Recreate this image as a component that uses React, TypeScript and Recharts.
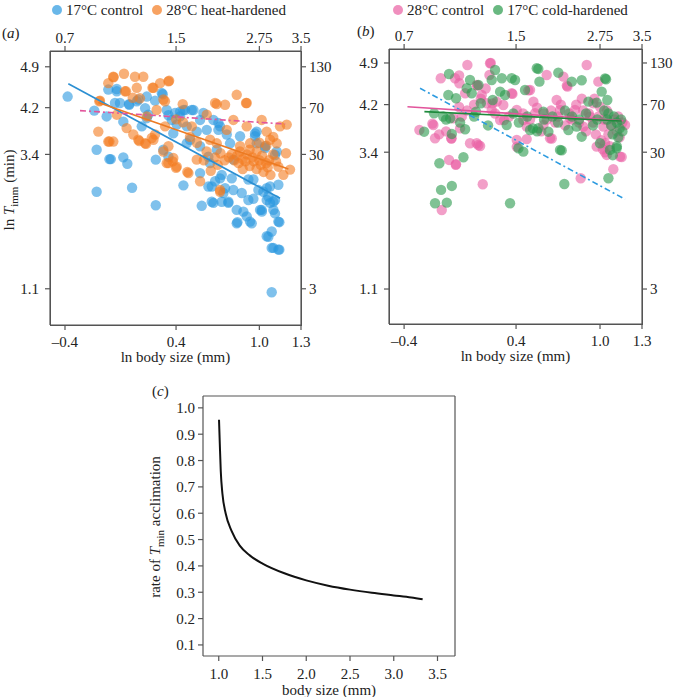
import React from 'react';
import { ScatterChart, Scatter, XAxis, YAxis, LineChart, Line } from 'recharts';

const FONT = '"Liberation Serif", "DejaVu Serif", serif';

// shared axis ticks (ln scale below/left, back-transformed labels above/right)
const bodyTicks = [-0.4, 0.4, 1.0, 1.3];
const bodyTickLabels = ['–0.4', '0.4', '1.0', '1.3'];
const sizeTopLabels = ['0.7', '1.5', '2.75', '3.5'];
const timeTicks = [1.1, 3.4, 4.2, 4.9];
const timeRightLabels = ['3', '30', '70', '130'];

// panel (a): [ln body size, ln T_imm]
const control17A = [
  [-0.381, 4.39], [-0.189, 4.15], [-0.172, 3.48], [-0.172, 2.76], [-0.1, 4.05], [-0.088, 4.51], [-0.08, 3.32],
  [-0.07, 3.32], [-0.027, 4.48], [-0.04, 4.28], [-0.004, 4.28], [0.02, 3.96], [0.02, 3.35], [0.049, 3.24],
  [0.083, 2.83], [0.063, 4.25], [0.128, 4.34], [0.153, 3.88], [0.189, 4.39], [0.2, 4.08], [0.254, 2.53],
  [0.254, 3.31], [0.297, 4.45], [0.308, 3.48], [0.333, 4.16], [0.38, 3.76], [0.393, 4.11], [0.429, 4.13],
  [0.453, 4.16], [0.477, 3.88], [0.501, 3.65], [0.453, 2.87], [0.525, 4.16], [0.549, 3.79], [0.573, 3.08],
  [0.585, 2.52], [0.621, 3.82], [0.645, 3.25], [0.657, 2.85], [0.669, 2.57], [0.705, 3.94], [0.717, 2.99],
  [0.741, 2.74], [0.729, 2.59], [0.777, 2.57], [0.789, 3.59], [0.801, 2.99], [0.813, 2.79], [0.837, 2.45],
  [0.842, 2.24], [0.873, 2.74], [0.861, 3.71], [0.885, 2.42], [0.909, 2.34], [0.921, 2.62], [0.945, 2.22],
  [0.957, 2.97], [0.969, 3.71], [0.981, 3.79], [0.993, 2.79], [1.005, 2.45], [1.017, 2.45], [1.029, 2.76],
  [1.041, 3.51], [1.053, 2.62], [1.065, 2.68], [1.077, 2.85], [1.089, 1.8], [1.101, 1.8], [1.053, 2.0],
  [1.089, 2.08], [1.101, 2.45], [1.113, 2.39], [1.125, 3.45], [1.137, 2.88], [1.144, 2.24], [1.144, 1.77],
  [1.089, 1.04], [1.113, 2.62], [1.077, 2.57], [0.981, 3.59], [0.921, 2.97], [0.813, 3.31], [0.693, 3.48],
  [0.633, 3.36], [0.573, 3.54], [0.477, 3.59], [0.429, 4.05], [0.369, 3.99], [0.345, 3.36], [0.717, 3.88],
  [0.573, 3.99], [0.597, 4.11], [0.669, 3.99], [0.117, 4.31], [0.177, 4.19], [0.249, 4.32], [0.304, 4.43],
  [0.345, 4.07], [0.405, 3.91], [-0.027, 4.52], [0.061, 4.26], [0.189, 4.02], [0.657, 2.59], [0.777, 2.59],
  [0.837, 2.22], [0.933, 2.25], [0.957, 2.64], [1.018, 2.42], [1.065, 1.99], [1.137, 1.77], [1.137, 2.25],
  [1.101, 2.59], [1.053, 2.82], [0.753, 2.82], [0.729, 3.05], [0.681, 2.94], [0.633, 2.85], [0.465, 4.16],
  [0.513, 4.16], [0.705, 3.82], [0.765, 3.74], [0.969, 3.76], [1.113, 3.39], [1.041, 3.54],
];
const heat28A = [
  [-0.153, 4.31], [-0.16, 3.79], [-0.088, 4.62], [-0.052, 4.73], [-0.088, 3.62], [-0.052, 3.62], [0.025, 4.78],
  [0.032, 4.48], [0.044, 3.85], [0.092, 3.74], [0.104, 4.73], [0.117, 4.54], [0.128, 3.65], [0.164, 4.73],
  [0.177, 3.59], [0.189, 4.05], [0.237, 3.65], [0.237, 4.54], [0.285, 4.62], [0.309, 4.34], [0.345, 4.65],
  [0.321, 3.88], [0.333, 3.25], [0.38, 3.34], [0.405, 3.19], [0.448, 4.26], [0.489, 3.08], [0.513, 3.88],
  [0.549, 3.31], [0.573, 2.94], [0.621, 4.08], [0.645, 3.65], [0.681, 4.28], [0.693, 3.59], [0.717, 2.79],
  [0.753, 4.25], [0.765, 3.82], [0.813, 3.99], [0.837, 4.42], [0.861, 3.54], [0.909, 4.28], [0.909, 3.88],
  [0.933, 3.59], [1.017, 3.99], [1.053, 3.79], [1.077, 3.65], [1.125, 3.59], [1.149, 3.88], [1.197, 3.91],
  [1.192, 3.42], [1.221, 3.14], [1.173, 3.05], [1.137, 3.19], [0.78, 3.35], [0.8, 3.4], [0.82, 3.3],
  [0.84, 3.38], [0.85, 3.25], [0.86, 3.45], [0.88, 3.32], [0.9, 3.28], [0.91, 3.4], [0.93, 3.2], [0.95, 3.35],
  [0.96, 3.28], [0.98, 3.15], [1.0, 3.3], [1.01, 3.22], [1.02, 3.38], [1.03, 3.1], [1.05, 3.25], [1.06, 3.18],
  [1.07, 3.3], [1.08, 3.05], [0.75, 3.3], [0.72, 3.42], [0.7, 3.22], [0.68, 3.35], [0.88, 3.15], [0.93, 3.48],
  [1.1, 3.4], [1.12, 3.28], [0.65, 3.12], [0.6, 3.3], [0.62, 3.45], [-0.05, 4.72], [0.04, 4.48], [0.23, 4.54],
  [0.35, 4.66], [-0.148, 4.32], [-0.08, 3.62], [0.135, 3.63], [0.184, 3.58], [0.225, 3.68], [0.249, 3.74],
  [0.26, 4.16], [0.32, 4.31], [0.308, 3.45], [0.345, 3.54], [0.345, 3.25], [0.376, 3.28], [0.4, 3.17],
  [0.088, 4.37], [0.14, 4.36], [-0.027, 4.08], [0.481, 3.1], [0.693, 4.26], [0.904, 4.28], [0.717, 2.76],
  [1.0, 3.6], [1.05, 3.55], [1.1, 3.7], [0.98, 3.45], [0.55, 3.6], [0.5, 3.7], [0.45, 3.95], [0.4, 4.0],
];
const fit17A = [[-0.376, 4.61], [1.149, 2.65]];
const fit28heatA = [[-0.16, 4.29], [1.209, 3.15]];
const fit28controlA = [[-0.292, 4.15], [1.186, 3.92]];

// panel (b)
const control28B = [
  [-0.291, 3.774], [-0.191, 3.858], [-0.179, 3.634], [-0.131, 2.429], [-0.138, 4.643], [-0.079, 3.27],
  [-0.029, 3.197], [-0.062, 3.634], [-0.048, 3.97], [-0.036, 4.643], [0.012, 3.998], [-0.005, 4.559],
  [0.052, 4.866], [0.036, 4.391], [0.071, 3.55], [0.119, 3.55], [0.143, 3.505], [0.162, 2.861], [0.119, 4.53],
  [0.155, 4.362], [0.214, 4.895], [0.21, 4.698], [0.191, 4.223], [0.226, 4.11], [0.262, 4.25], [0.309, 4.194],
  [0.369, 4.391], [0.286, 3.942], [0.405, 4.11], [0.452, 3.942], [0.476, 3.83], [0.405, 3.606], [0.5, 4.446],
  [0.524, 4.25], [0.536, 4.055], [0.619, 4.698], [0.595, 3.858], [0.643, 3.634], [0.69, 4.278], [0.714, 4.11],
  [0.738, 4.67], [0.767, 4.502], [0.786, 3.97], [0.821, 4.11], [0.862, 2.962], [0.905, 4.866], [0.881, 3.83],
  [0.929, 3.998], [0.952, 4.223], [0.976, 3.493], [0.988, 4.586], [1.0, 4.165], [1.024, 3.83], [1.036, 3.55],
  [1.048, 3.354], [1.095, 3.113], [1.143, 3.325], [1.179, 3.858], [0.45, 4.05], [0.5, 3.95], [0.55, 4.15],
  [0.6, 4.05], [0.62, 3.95], [0.65, 4.1], [0.68, 3.9], [0.7, 4.0], [0.72, 4.2], [0.75, 3.85], [0.78, 4.05],
  [0.8, 3.95], [0.83, 4.2], [0.85, 3.9], [0.88, 4.1], [0.9, 3.75], [0.92, 4.05], [0.95, 3.9], [0.97, 3.7],
  [0.99, 4.0], [1.01, 3.6], [1.03, 3.95], [1.05, 4.1], [1.06, 3.7], [1.08, 3.85], [1.1, 3.95], [1.12, 3.75],
  [1.14, 3.65], [1.16, 3.9], [1.13, 4.0], [1.07, 3.5], [1.02, 3.45], [0.96, 4.3], [0.87, 4.3], [0.58, 3.75],
  [0.35, 4.0], [0.25, 4.05], [0.1, 4.2], [0.05, 4.1], [-0.1, 3.75], [-0.15, 3.7], [0.0, 3.8], [0.219, 4.9],
  [-0.007, 4.69], [0.124, 4.52], [0.183, 4.47], [0.374, 4.38], [-0.198, 3.88], [-0.062, 3.63], [0.131, 3.52],
  [-0.031, 3.19], [-0.007, 4.16], [0.148, 4.3], [0.231, 4.22], [0.314, 3.94], [0.488, 4.44], [0.763, 4.52],
  [1.155, 3.32], [1.036, 3.4], [0.655, 3.63], [0.476, 3.62], [0.405, 3.49],
];
const cold17B = [
  [-0.257, 3.745], [-0.186, 4.055], [-0.148, 3.214], [-0.136, 2.766], [-0.179, 2.542], [-0.095, 2.552],
  [-0.059, 2.833], [-0.079, 4.715], [-0.084, 4.362], [-0.071, 3.97], [-0.029, 4.307], [-0.059, 3.707],
  [0.024, 3.315], [0.036, 3.786], [0.048, 4.475], [0.071, 4.614], [0.083, 4.391], [0.114, 4.082], [0.131, 4.53],
  [0.148, 4.223], [0.226, 4.614], [0.233, 4.278], [0.25, 4.782], [0.286, 4.418], [0.298, 4.643], [0.321, 4.362],
  [0.333, 3.858], [0.357, 2.542], [0.369, 4.643], [0.393, 4.614], [0.417, 3.466], [0.452, 3.409], [0.464, 4.446],
  [0.5, 3.774], [0.548, 4.811], [0.567, 4.586], [0.56, 3.802], [0.595, 4.082], [0.631, 3.745], [0.702, 4.737],
  [0.714, 3.438], [0.745, 2.866], [0.774, 3.774], [0.798, 4.586], [0.833, 3.83], [0.869, 3.661], [0.917, 4.25],
  [0.976, 4.233], [1.012, 4.418], [1.043, 4.626], [1.052, 4.278], [1.06, 2.962], [1.071, 3.438], [1.091, 3.35],
  [1.119, 3.466], [1.05, 3.95], [1.08, 3.85], [1.1, 4.0], [1.12, 3.9], [1.14, 3.8], [1.15, 3.95], [1.09, 3.7],
  [1.13, 3.65], [1.06, 4.05], [1.03, 4.1], [0.98, 3.95], [0.95, 3.85], [0.9, 4.05], [0.85, 3.95], [0.8, 4.0],
  [0.75, 4.1], [0.7, 3.9], [0.66, 4.0], [0.6, 3.95], [0.55, 3.75], [0.52, 3.8], [0.48, 4.0], [0.42, 3.9],
  [0.38, 4.05], [0.2, 3.85], [0.1, 4.0], [0.0, 3.9], [-0.12, 4.0], [-0.1, 3.95], [1.16, 3.75], [1.0, 3.55],
  [1.12, 3.5], [0.559, 4.8], [0.869, 4.61], [1.036, 4.64], [0.726, 3.43],
];
const fit17refB = [[-0.286, 4.475], [1.179, 2.609]];
const fit28controlB = [[-0.376, 4.165], [1.167, 3.93]];
const fit17coldB = [[-0.255, 4.082], [1.155, 3.925]];

// panel (c)
const bodySize = [1.003, 1.012, 1.023, 1.042, 1.08, 1.145, 1.24, 1.354, 1.506, 1.75, 2.0, 2.25, 2.5, 2.75, 3.0, 3.2, 3.33];
const acclimRate = [0.955, 0.864, 0.76, 0.674, 0.598, 0.534, 0.477, 0.44, 0.408, 0.372, 0.345, 0.325, 0.31, 0.298, 0.288, 0.28, 0.273];
const sizeTicks = [1.0, 1.5, 2.0, 2.5, 3.0, 3.5];
const rateTicks = [0.1, 0.2, 0.3, 0.4, 0.5, 0.6, 0.7, 0.8, 0.9, 1.0];

const toPts = (a: number[][]) => a.map(([x, y]) => ({ x, y }));
const curve = bodySize.map((size, i) => ({ size, rate: acclimRate[i] }));

const AXIS = '#555';
const TICK = 5;
const tickText = { fill: '#222', fontSize: 15 };

type Series = { name: string; color: string; data: number[][] };
type Fit = { color: string; dash?: string; data: number[][]; alt?: boolean };

const seriesA: Series[] = [
  { name: '17°C control', color: '#2a98e0', data: control17A },
  { name: '28°C heat-hardened', color: '#f47b20', data: heat28A },
];
const fitsA: Fit[] = [
  { color: '#2b8fd2', data: fit17A },
  { color: '#ec7a22', data: fit28heatA },
  { color: '#e2559c', dash: '6 3 2 3', data: fit28controlA, alt: true },
];
const seriesB: Series[] = [
  { name: '28°C control', color: '#ea5fa3', data: control28B },
  { name: '17°C cold-hardened', color: '#2a9a4c', data: cold17B },
];
const fitsB: Fit[] = [
  { color: '#2d9be0', dash: '6 3 2 3', data: fit17refB, alt: true },
  { color: '#e2559c', data: fit28controlB },
  { color: '#1f8a3c', data: fit17coldB },
];

const dot = (color: string) => (p: any) => (
  <circle cx={p.cx} cy={p.cy} r={5.2} fill={color} fillOpacity={0.6} />
);

const css = `
  .recharts-text { font-family: ${FONT}; fill: #222; }
  .recharts-cartesian-axis-line, .recharts-cartesian-axis-tick-line { stroke: ${AXIS}; stroke-width: 1.2; }
`;

const X_DOMAIN: [number, number] = [-0.508, 1.3];

// scatter cloud underneath, axes + fitted lines drawn by a line chart on top
function ScatterPanel(props: {
  height: number; top: number; leftW: number; rightW: number;
  yDomain: [number, number]; series: Series[]; fits: Fit[];
}) {
  const { height, top, leftW, rightW, yDomain, series, fits } = props;
  const plotH = height - top - 30 - 45;
  return (
    <div style={{ position: 'relative', width: 337, height }}>
      <div style={{ position: 'absolute', left: 0, top: 0 }}>
        <ScatterChart width={337} height={height} margin={{ top: top + 30, right: rightW, bottom: 0, left: 0 }}>
          <XAxis xAxisId="b" dataKey="x" type="number" domain={X_DOMAIN} allowDataOverflow height={45}
            axisLine={false} tickLine={false} tick={false} />
          <YAxis yAxisId="l" dataKey="y" type="number" domain={yDomain} allowDataOverflow width={leftW}
            axisLine={false} tickLine={false} tick={false} />
          {series.map((s) => (
            <Scatter key={s.name} name={s.name} xAxisId="b" yAxisId="l" data={toPts(s.data)}
              shape={dot(s.color)} isAnimationActive={false} />
          ))}
        </ScatterChart>
      </div>
      <div style={{ position: 'absolute', left: leftW, top: top + 30, width: 337 - leftW - rightW + 1,
        height: plotH + 1, border: `1px solid ${AXIS}`, boxSizing: 'border-box' }} />
      <div style={{ position: 'absolute', left: 0, top: 0 }}>
        <LineChart width={337} height={height} margin={{ top, right: 0, bottom: 0, left: 0 }}>
          <XAxis xAxisId="b" dataKey="x" type="number" domain={X_DOMAIN} allowDataOverflow ticks={bodyTicks}
            interval={0} tickFormatter={(v) => bodyTickLabels[bodyTicks.indexOf(v)]} height={45}
            stroke={AXIS} axisLine tickLine tickSize={TICK} tickMargin={6} tick={tickText}
            label={{ value: 'ln body size (mm)', position: 'insideBottom', offset: 8, fill: '#222', fontSize: 15 }} />
          <XAxis xAxisId="t" orientation="top" dataKey="x" type="number" domain={X_DOMAIN} allowDataOverflow
            ticks={bodyTicks} interval={0} tickFormatter={(v) => sizeTopLabels[bodyTicks.indexOf(v)]} height={30}
            stroke={AXIS} axisLine tickLine tickSize={TICK} tickMargin={3} tick={tickText} />
          <YAxis yAxisId="l" type="number" domain={yDomain} allowDataOverflow ticks={timeTicks}
            interval={0} width={leftW} stroke={AXIS} axisLine tickLine tickSize={TICK} tickMargin={6}
            tick={tickText} tickFormatter={(v) => v.toFixed(1)} />
          <YAxis yAxisId="r" orientation="right" type="number" domain={yDomain} allowDataOverflow
            ticks={timeTicks} interval={0} width={rightW} stroke={AXIS} axisLine tickLine tickSize={TICK}
            tickMargin={3} tick={tickText} tickFormatter={(v) => timeRightLabels[timeTicks.indexOf(v)]} />
          {fits.map((f, i) => (
            <Line key={'fit' + i} xAxisId={f.alt ? 't' : 'b'} yAxisId={f.alt ? 'r' : 'l'} data={toPts(f.data)}
              dataKey="y" type="linear" stroke={f.color} strokeWidth={1.6} strokeDasharray={f.dash}
              dot={false} activeDot={false} legendType="none" isAnimationActive={false} />
          ))}
        </LineChart>
      </div>
    </div>
  );
}

function LegendRow({ series, left }: { series: Series[]; left: number }) {
  return (
    <div style={{ position: 'absolute', left, top: 0, display: 'flex', gap: 9, fontSize: 15, lineHeight: '20px' }}>
      {series.map((s) => (
        <div key={s.name} style={{ display: 'flex', alignItems: 'center', gap: 4 }}>
          <span style={{ width: 10, height: 10, borderRadius: 5, background: s.color, opacity: 0.7, display: 'inline-block' }} />
          <span>{s.name}</span>
        </div>
      ))}
    </div>
  );
}

const abs = (left: number, top: number): React.CSSProperties => ({ position: 'absolute', left, top });

export default function App() {
  return (
    <div style={{ position: 'absolute', left: 0, top: 0, width: 675, height: 697, background: '#fff', fontFamily: FONT, color: '#222' }}>
      <style>{css}</style>
      <LegendRow series={seriesA} left={52} />
      <LegendRow series={seriesB} left={393} />
      <div style={{ ...abs(2, 25), fontSize: 15 }}>(<i>a</i>)</div>
      <div style={{ ...abs(357, 23), fontSize: 15 }}>(<i>b</i>)</div>
      <div style={{ ...abs(152, 383), fontSize: 15 }}>(<i>c</i>)</div>

      <div style={abs(0, 0)}>
        <ScatterPanel height={370} top={21} leftW={50} rightW={36} yDomain={[0.48, 5.17]} series={seriesA} fits={fitsA} />
      </div>
      <div style={abs(338, 0)}>
        <ScatterPanel height={369} top={19} leftW={51} rightW={33} yDomain={[0.512, 5.135]} series={seriesB} fits={fitsB} />
      </div>

      <div style={{ ...abs(10, 190), fontSize: 15, whiteSpace: 'nowrap', transform: 'translate(-50%, -50%) rotate(-90deg)' }}>
        ln <i>T</i><sub style={{ fontSize: 11 }}>imm</sub> (min)
      </div>
      <div style={{ ...abs(156, 527), fontSize: 15, whiteSpace: 'nowrap', transform: 'translate(-50%, -50%) rotate(-90deg)' }}>
        rate of <i>T</i><sub style={{ fontSize: 11 }}>min</sub> acclimation
      </div>

      <div style={abs(140, 370)}>
        <LineChart width={330} height={327} data={curve} margin={{ top: 25, right: 14, bottom: 0, left: 0 }}>
          <XAxis xAxisId="b" dataKey="size" type="number" domain={[0.82, 3.7]} allowDataOverflow ticks={sizeTicks}
            interval={0} tickFormatter={(v) => v.toFixed(1)} height={41} stroke={AXIS} axisLine tickLine
            tickSize={TICK} tickMargin={7} tick={tickText}
            label={{ value: 'body size (mm)', position: 'insideBottom', offset: 2, fill: '#222', fontSize: 15 }} />
          <XAxis xAxisId="t" orientation="top" dataKey="size" type="number" domain={[0.82, 3.7]} allowDataOverflow
            tick={false} tickLine={false} height={1} stroke={AXIS} axisLine />
          <YAxis yAxisId="l" type="number" domain={[0.058, 1.045]} allowDataOverflow ticks={rateTicks} interval={0}
            tickFormatter={(v) => v.toFixed(1)} width={63} stroke={AXIS} axisLine tickLine tickSize={TICK}
            tickMargin={3} tick={tickText} />
          <YAxis yAxisId="r" orientation="right" type="number" domain={[0.058, 1.045]} allowDataOverflow
            tick={false} tickLine={false} width={1} stroke={AXIS} axisLine />
          <Line xAxisId="b" yAxisId="l" dataKey="rate" type="monotone" stroke="#111" strokeWidth={2}
            dot={false} isAnimationActive={false} />
          <Line xAxisId="t" yAxisId="r" dataKey="rate" type="monotone" stroke="none" dot={false}
            legendType="none" isAnimationActive={false} />
        </LineChart>
      </div>
    </div>
  );
}
